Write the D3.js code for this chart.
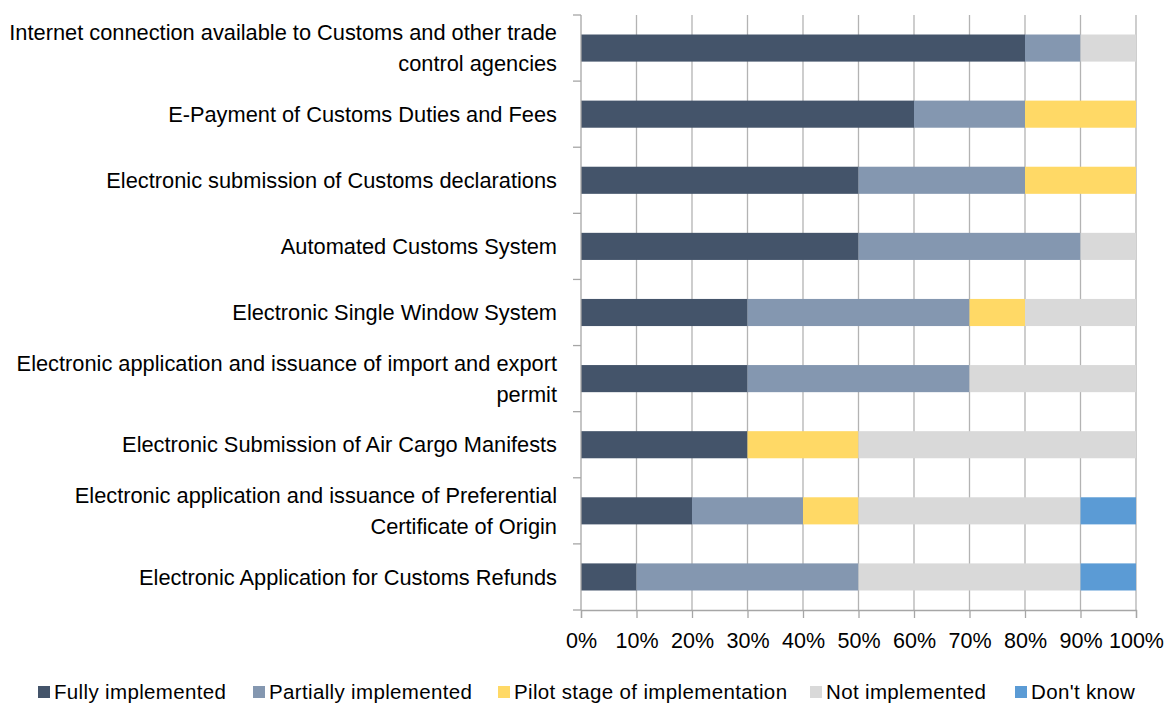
<!DOCTYPE html>
<html><head><meta charset="utf-8">
<script src="https://cdn.jsdelivr.net/npm/d3@7"></script>
<style>body{margin:0;background:#fff;} svg{display:block;} text{font-family:"Liberation Sans",Arial,sans-serif;fill:#000;}</style>
</head><body><svg id="c" width="1166" height="705"></svg>
<script>
const categories = [
  ["Internet connection available to Customs and other trade","control agencies"],
  ["E-Payment of Customs Duties and Fees"],
  ["Electronic submission of Customs declarations"],
  ["Automated Customs System"],
  ["Electronic Single Window System"],
  ["Electronic application and issuance of import and export","permit"],
  ["Electronic Submission of Air Cargo Manifests"],
  ["Electronic application and issuance of Preferential","Certificate of Origin"],
  ["Electronic Application for Customs Refunds"]
];
const seriesNames = ["Fully implemented","Partially implemented","Pilot stage of implementation","Not implemented","Don't know"];
const fully     = [80,60,50,50,30,30,30,20,10];
const partially = [10,20,30,40,40,40, 0,20,40];
const pilot     = [ 0,20,20, 0,10, 0,20,10, 0];
const notImpl   = [10, 0, 0,10,20,30,50,40,40];
const dontKnow  = [ 0, 0, 0, 0, 0, 0, 0,10,10];
const tickValues = [0,10,20,30,40,50,60,70,80,90,100];
const colors = ["#44546a","#8497b0","#ffd966","#d9d9d9","#5b9bd5"];

(function(){
const svg = d3.select("#c");
const pL = 581, pR = 1136, pT = 15, pB = 610;
const x = d3.scaleLinear().domain([0,100]).range([pL,pR]);
const idx = d3.range(categories.length);
const y = d3.scaleBand().domain(idx).range([pT,pB]).paddingInner(0.59).paddingOuter(0.295);

const rows = idx.map(i => ({i, v:[fully[i],partially[i],pilot[i],notImpl[i],dontKnow[i]]}));
const keys = [0,1,2,3,4];
const stacked = d3.stack().keys(keys).value((d,k)=>d.v[k])(rows);

// gridlines
svg.append("g").selectAll("line").data(tickValues.slice(1)).join("line")
  .attr("x1",d=>x(d)).attr("x2",d=>x(d)).attr("y1",pT).attr("y2",pB)
  .attr("stroke","#b3b3b3").attr("stroke-width",1.3);

// bars
svg.append("g").selectAll("g").data(stacked).join("g").attr("fill",(d,k)=>colors[k])
  .selectAll("rect").data(d=>d).join("rect")
  .attr("x",d=>x(d[0])).attr("width",d=>x(d[1])-x(d[0]))
  .attr("y",d=>y(d.data.i)).attr("height",y.bandwidth());

// left axis
const yEdges = d3.scaleLinear().domain([0,categories.length]).range([pT,pB]);
svg.append("line").attr("x1",pL).attr("x2",pL).attr("y1",pT).attr("y2",pB).attr("stroke","#a6a6a6").attr("stroke-width",1.3);
svg.append("g").selectAll("line").data(d3.range(categories.length+1)).join("line")
  .attr("x1",pL-8).attr("x2",pL).attr("y1",d=>yEdges(d)).attr("y2",d=>yEdges(d))
  .attr("stroke","#a6a6a6").attr("stroke-width",1.3);

// bottom axis
const xAxis = d3.axisBottom(x).tickValues(tickValues).tickFormat(d=>d+"%").tickSize(8).tickPadding(15);
const gx = svg.append("g").attr("transform",`translate(0,${pB})`).call(xAxis);
gx.select(".domain").attr("stroke","#a6a6a6").attr("stroke-width",1.3);
gx.selectAll(".tick line").attr("stroke","#a6a6a6").attr("stroke-width",1.3);
gx.selectAll(".tick text").style("font-family",'"Liberation Sans",Arial,sans-serif').style("font-size","21.5px").attr("fill","#000");

// category labels
const lab = svg.append("g").selectAll("text").data(idx).join("text")
  .attr("text-anchor","end").style("font-size","21.8px")
  .attr("transform",d=>`translate(557,${y(d)+y.bandwidth()/2})`);
lab.each(function(d){
  const lines = categories[d];
  const t = d3.select(this);
  const lh = 31;
  lines.forEach((s,j)=>{
    t.append("tspan").attr("x",0).attr("y",(j-(lines.length-1)/2)*lh).attr("dy","0.35em").text(s);
  });
});

// legend
const legX = [38,253,498,810,1015];
const lg = svg.append("g").selectAll("g").data(seriesNames).join("g")
  .attr("transform",(d,k)=>`translate(${legX[k]},692)`);
lg.append("rect").attr("x",0).attr("y",-6).attr("width",12).attr("height",12).attr("fill",(d,k)=>colors[k]);
lg.append("text").attr("x",16).attr("y",0).attr("dy","0.35em").style("font-size","20.5px").style("letter-spacing","0.35px").text(d=>d);
})();
</script></body></html>
